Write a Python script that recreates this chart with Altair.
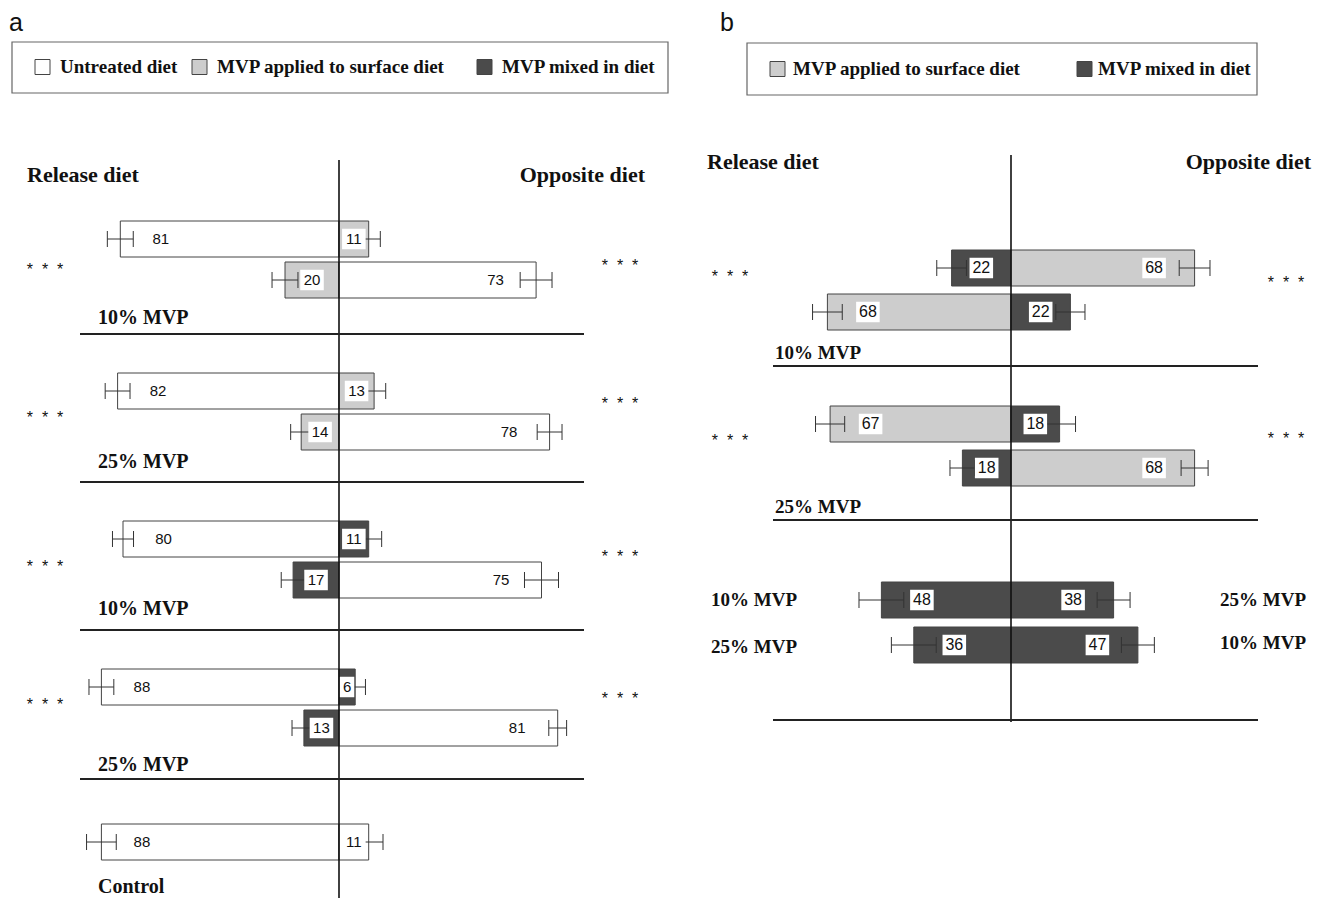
import altair as alt
import pandas as pd

# ---------------- values ----------------
TREATMENTS = ["Untreated diet", "MVP applied to surface diet", "MVP mixed in diet"]
TREAT_FILL = ["#ffffff", "#cdcdcd", "#4b4b4b"]
U, S, M = TREATMENTS

# Panel a (rows top to bottom; left = release diet, right = opposite diet)
a_release_pct = [81, 20, 82, 14, 80, 17, 88, 13, 88]
a_release_trt = [U, S, U, S, U, M, U, M, U]
a_release_err = [4.8, 4.8, 4.6, 3.9, 3.9, 4.4, 4.6, 4.4, 5.5]
a_opposite_pct = [11, 73, 13, 78, 11, 75, 6, 81, 11]
a_opposite_trt = [S, U, S, U, M, U, M, U, U]
a_opposite_err = [4.3, 5.9, 4.3, 4.6, 4.8, 6.3, 3.8, 3.3, 5.3]
a_group_labels = ["10% MVP", "25% MVP", "10% MVP", "25% MVP", "Control"]
STARS = "*\u00a0\u00a0*\u00a0\u00a0*"
a_significance = [STARS, STARS, STARS, STARS]

# Panel b
b_release_pct = [22, 68, 67, 18, 48, 36]
b_release_trt = [M, S, S, M, M, M]
b_release_err = [5.5, 5.5, 5.4, 4.6, 8.3, 8.3]
b_opposite_pct = [68, 22, 18, 68, 38, 47]
b_opposite_trt = [S, M, M, S, M, M]
b_opposite_err = [5.7, 5.4, 5.9, 5.0, 6.1, 6.1]
b_group_labels = ["10% MVP", "25% MVP"]
b_mixed_left = ["10% MVP", "25% MVP"]
b_mixed_right = ["25% MVP", "10% MVP"]
b_significance = [STARS, STARS]

# ---------------- layout (screen pixels) ----------------
PX = 2.7          # pixels per percentage point
H = 890
OY = 8
WA, WB = 662, 642
OXA, OXB = 8, 8 + WA
A_CENTER, B_CENTER = 339, 1011
A_ROW_Y = [239, 280, 391, 432, 539, 580, 687, 728, 842]
B_ROW_Y = [268, 312, 424, 468, 600, 645]
BAR_H = 36
CAP = 8
SERIF = "Liberation Serif"
SANS = "Liberation Sans"
WIDE_BOX = "M-1.15,-1H1.15V1H-1.15Z"
NARROW_BOX = "M-0.7,-1H0.7V1H-0.7Z"


def build_panel(width, ox, center, rows_y, rel, rel_t, rel_e, opp, opp_t, opp_e,
                num_size, left_texts, right_texts, stars, letter, seps, seg,
                vline, legend_box, legend_items):
    def ux(px):
        return (px - center) / PX

    def uy(py):
        return py - OY

    xs = alt.Scale(domain=[ux(ox), ux(ox + width)], nice=False, zero=False)
    ys = alt.Scale(domain=[0, H], reverse=True, nice=False, zero=False)
    fs = alt.Scale(domain=TREATMENTS, range=TREAT_FILL)

    def X(f):
        return alt.X(f, type="quantitative", scale=xs, axis=None)

    def Y(f):
        return alt.Y(f, type="quantitative", scale=ys, axis=None)

    recs = []
    for side, pcts, trts, errs in ((-1, rel, rel_t, rel_e), (1, opp, opp_t, opp_e)):
        for yc, v, t, e in zip(rows_y, pcts, trts, errs):
            y = uy(yc)
            lab = v / 2 if v < 30 else v - 15
            recs.append(dict(y=y, y0=y - BAR_H / 2, y1=y + BAR_H / 2, ya=y - CAP, yb=y + CAP,
                             x0=0, x1=side * v, e0=side * (v - e), e1=side * (v + e),
                             lab=side * lab, txt=str(v), trt=t,
                             digits="wide" if v >= 10 else "narrow"))
    df = pd.DataFrame(recs)
    base = alt.Chart(df)

    # legend
    lb = pd.DataFrame([dict(x0=ux(legend_box[0]), x1=ux(legend_box[2]),
                            y0=uy(legend_box[1]), y1=uy(legend_box[3]))])
    leg_box = alt.Chart(lb).mark_rect(fill="white", stroke="#666", strokeWidth=1.2).encode(
        x=X("x0"), x2="x1", y=Y("y0"), y2="y1")
    li = pd.DataFrame([dict(x0=ux(sx), x1=ux(sx + 15), y0=uy(ly - 7.5), y1=uy(ly + 7.5),
                            tx=ux(tx), ty=uy(ly), trt=name)
                       for (sx, tx, ly, name) in legend_items])
    leg_sw = alt.Chart(li).mark_rect(stroke="#444", strokeWidth=1).encode(
        x=X("x0"), x2="x1", y=Y("y0"), y2="y1",
        fill=alt.Fill("trt:N", scale=fs, legend=None))
    leg_tx = alt.Chart(li).mark_text(font=SERIF, fontWeight="bold", fontSize=19,
                                     align="left", baseline="middle", color="#111").encode(
        x=X("tx"), y=Y("ty"), text="trt:N")

    bars = base.mark_rect(stroke="#444", strokeWidth=1).encode(
        x=X("x0"), x2="x1", y=Y("y0"), y2="y1",
        fill=alt.Fill("trt:N", scale=fs, legend=None))
    vl = pd.DataFrame([dict(x=0, ya=uy(vline[0]), yb=uy(vline[1]))])
    center_line = alt.Chart(vl).mark_rule(color="#111", strokeWidth=1.6).encode(
        x=X("x"), y=Y("ya"), y2="yb")
    err = base.mark_rule(color="#333", strokeWidth=1).encode(x=X("e0"), x2="e1", y=Y("y"))
    caps = base.transform_fold(["e0", "e1"], as_=["end", "xe"]).mark_rule(
        color="#333", strokeWidth=1).encode(x=X("xe"), y=Y("ya"), y2="yb")
    boxes = base.mark_point(
        filled=True, color="white", opacity=1, size=420, strokeWidth=0).encode(
        x=X("lab"), y=Y("y"),
        shape=alt.Shape("digits:N", scale=alt.Scale(domain=["wide", "narrow"],
                                                    range=[WIDE_BOX, NARROW_BOX]), legend=None))
    nums = base.mark_text(font=SANS, fontSize=num_size, color="#111",
                          baseline="middle", align="center").encode(
        x=X("lab"), y=Y("y"), text="txt:N")

    sp = pd.DataFrame([dict(x0=ux(seg[0]), x1=ux(seg[1]), y=uy(sy)) for sy in seps])
    sep_rules = alt.Chart(sp).mark_rule(color="#222", strokeWidth=2).encode(
        x=X("x0"), x2="x1", y=Y("y"))

    def text_layer(items, align, font, weight, baseline="middle"):
        d = pd.DataFrame([dict(x=ux(x), y=uy(y), t=t, fs=s) for (t, x, y, s) in items])
        return alt.Chart(d).mark_text(font=font, fontWeight=weight, align=align,
                                      baseline=baseline, color="#111").encode(
            x=X("x"), y=Y("y"), text="t:N", size=alt.Size("fs:Q", scale=None))

    layers = [leg_box, leg_sw, leg_tx, bars, center_line, err, caps, boxes, nums, sep_rules,
              text_layer(left_texts, "left", SERIF, "bold"),
              text_layer(right_texts, "right", SERIF, "bold"),
              text_layer(stars, "center", SANS, "normal"),
              text_layer([letter], "left", SANS, "normal", "alphabetic")]
    return alt.layer(*layers).properties(width=width, height=H)


# ---------------- panel a ----------------
a_left = [("Release diet", 27, 175, 22)]
for lab, y in zip(a_group_labels, [318, 462, 609, 765, 887]):
    a_left.append((lab, 98, y, 20))
a_right = [("Opposite diet", 645, 175, 22)]
a_stars = [(s, 45, y + 5, 16) for s, y in zip(a_significance, [265, 413, 562, 700])]
a_stars += [(s, 620, y + 5, 16) for s, y in zip(a_significance, [261, 399, 552, 694])]
panel_a = build_panel(
    WA, OXA, A_CENTER, A_ROW_Y,
    a_release_pct, a_release_trt, a_release_err,
    a_opposite_pct, a_opposite_trt, a_opposite_err,
    15, a_left, a_right, a_stars, ("a", 9, 31, 25),
    [334, 482, 630, 779], (80, 584), (160, OY + H),
    (12, 42, 668, 93),
    [(35, 60, 67, U), (192, 217, 67, S), (477, 502, 67, M)])

# ---------------- panel b ----------------
b_left = [("Release diet", 707, 162, 22)]
for lab, y in zip(b_group_labels, [353, 507]):
    b_left.append((lab, 775, y, 19))
for lab, y in zip(b_mixed_left, [600, 647]):
    b_left.append((lab, 711, y, 19))
b_right = [("Opposite diet", 1311, 162, 22)]
for lab, y in zip(b_mixed_right, [600, 643]):
    b_right.append((lab, 1306, y, 19))
b_stars = [(s, 730, y + 5, 16) for s, y in zip(b_significance, [272, 436])]
b_stars += [(s, 1286, y + 5, 16) for s, y in zip(b_significance, [278, 434])]
panel_b = build_panel(
    WB, OXB, B_CENTER, B_ROW_Y,
    b_release_pct, b_release_trt, b_release_err,
    b_opposite_pct, b_opposite_trt, b_opposite_err,
    16, b_left, b_right, b_stars, ("b", 720, 31, 25),
    [366, 520, 720], (773, 1258), (155, 722),
    (747, 43, 1257, 95),
    [(770, 793, 69, S), (1077, 1098, 69, M)])

chart = alt.hconcat(panel_a, panel_b, spacing=0).properties(padding=0).configure_view(stroke=None)
chart.save("out.html", embed_options={"renderer": "svg", "actions": False})
